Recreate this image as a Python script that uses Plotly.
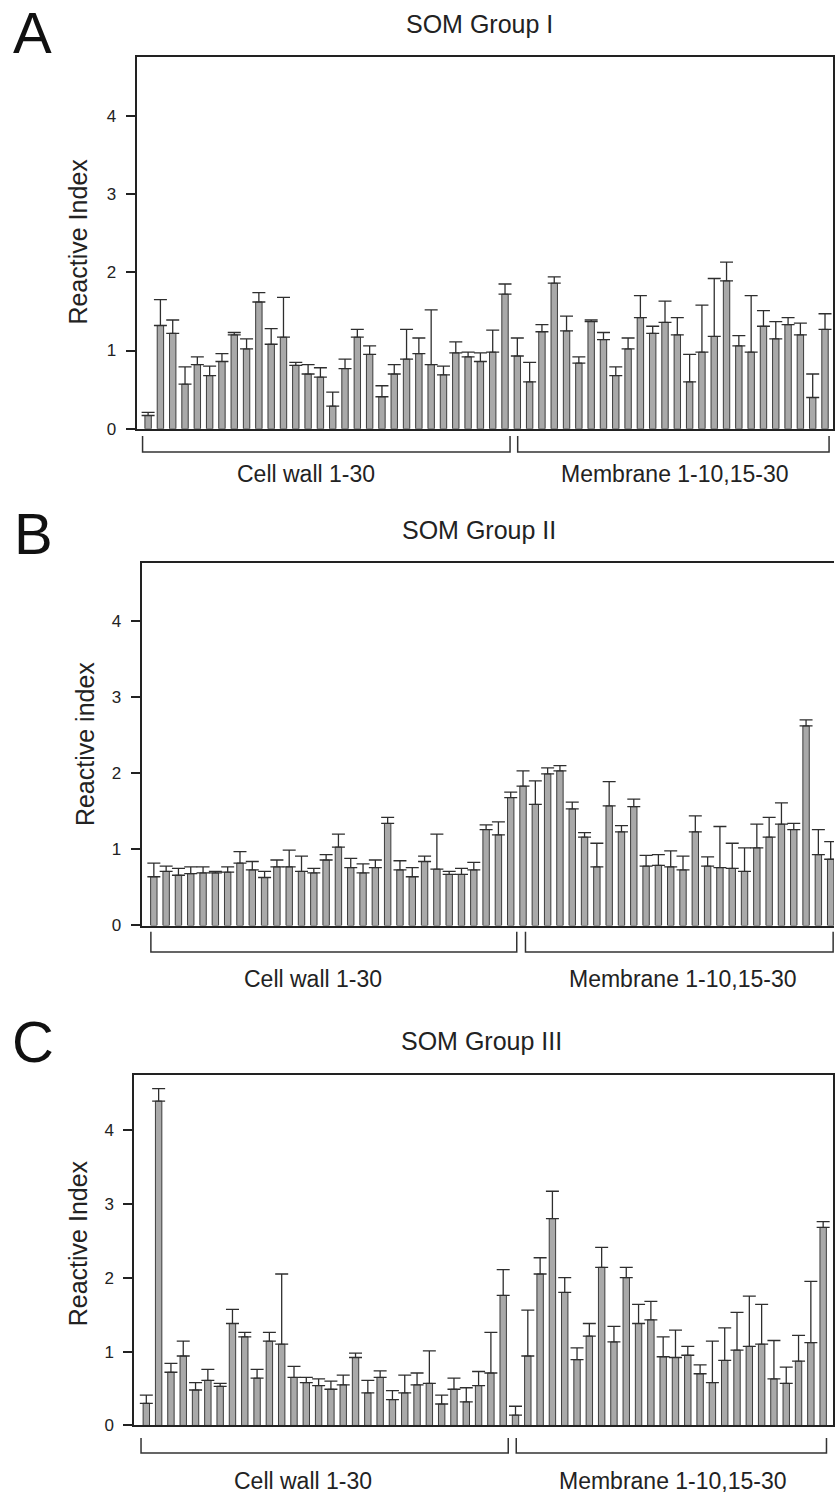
import plotly.graph_objects as go

# ---------------- data ----------------
cell_wall_pos = list(range(1, 31))      # Cell wall 1-30
membrane_pos = list(range(31, 57))      # Membrane 1-10,15-30 (26 bars)

# Panel A: SOM Group I
a_cw_mean = [0.17, 1.32, 1.22, 0.57, 0.82, 0.68, 0.86, 1.20, 1.02, 1.62,
             1.08, 1.17, 0.81, 0.70, 0.66, 0.29, 0.77, 1.17, 0.95, 0.41,
             0.70, 0.89, 0.96, 0.82, 0.69, 0.97, 0.92, 0.86, 0.98, 1.72]
a_cw_err = [0.04, 0.33, 0.17, 0.22, 0.10, 0.12, 0.10, 0.03, 0.13, 0.12,
            0.20, 0.51, 0.04, 0.12, 0.12, 0.18, 0.12, 0.10, 0.11, 0.14,
            0.12, 0.38, 0.20, 0.70, 0.11, 0.14, 0.06, 0.11, 0.28, 0.13]
a_mem_mean = [0.93, 0.60, 1.24, 1.86, 1.25, 0.84, 1.37, 1.14, 0.68, 1.02,
              1.42, 1.22, 1.36, 1.20, 0.60, 0.98, 1.18, 1.89, 1.06, 0.98,
              1.31, 1.15, 1.33, 1.20, 0.40, 1.27]
a_mem_err = [0.23, 0.25, 0.09, 0.08, 0.19, 0.08, 0.02, 0.09, 0.11, 0.14,
             0.28, 0.09, 0.27, 0.22, 0.35, 0.60, 0.74, 0.24, 0.13, 0.72,
             0.20, 0.22, 0.09, 0.15, 0.30, 0.20]

# Panel B: SOM Group II
b_cw_mean = [0.64, 0.71, 0.66, 0.68, 0.69, 0.69, 0.70, 0.82, 0.73, 0.63,
             0.77, 0.77, 0.71, 0.69, 0.86, 1.03, 0.76, 0.69, 0.76, 1.34,
             0.73, 0.64, 0.84, 0.74, 0.67, 0.67, 0.73, 1.26, 1.19, 1.68]
b_cw_err = [0.18, 0.07, 0.09, 0.09, 0.08, 0.02, 0.07, 0.15, 0.11, 0.08,
            0.09, 0.22, 0.20, 0.06, 0.07, 0.17, 0.12, 0.12, 0.10, 0.08,
            0.12, 0.12, 0.07, 0.46, 0.04, 0.08, 0.10, 0.06, 0.17, 0.07]
b_mem_mean = [1.83, 1.59, 1.99, 2.03, 1.53, 1.16, 0.77, 1.57, 1.23, 1.56,
              0.78, 0.79, 0.77, 0.73, 1.23, 0.78, 0.76, 0.75, 0.71, 1.02,
              1.16, 1.33, 1.26, 2.62, 0.93, 0.87]
b_mem_err = [0.20, 0.31, 0.08, 0.07, 0.09, 0.06, 0.31, 0.32, 0.08, 0.10,
             0.14, 0.14, 0.21, 0.18, 0.21, 0.12, 0.54, 0.33, 0.31, 0.31,
             0.26, 0.28, 0.08, 0.08, 0.33, 0.23]

# Panel C: SOM Group III
c_cw_mean = [0.30, 4.39, 0.72, 0.94, 0.48, 0.61, 0.53, 1.38, 1.20, 0.64,
             1.14, 1.10, 0.65, 0.58, 0.54, 0.49, 0.55, 0.92, 0.44, 0.65,
             0.35, 0.44, 0.55, 0.57, 0.29, 0.49, 0.32, 0.54, 0.71, 1.76]
c_cw_err = [0.11, 0.17, 0.12, 0.20, 0.10, 0.15, 0.04, 0.19, 0.06, 0.12,
            0.12, 0.95, 0.15, 0.07, 0.09, 0.11, 0.13, 0.06, 0.17, 0.09,
            0.12, 0.24, 0.16, 0.44, 0.12, 0.15, 0.19, 0.19, 0.55, 0.35]
c_mem_mean = [0.14, 0.94, 2.05, 2.80, 1.80, 0.89, 1.21, 2.14, 1.13, 2.00,
              1.38, 1.43, 0.93, 0.92, 0.95, 0.70, 0.58, 0.88, 1.02, 1.07,
              1.10, 0.63, 0.57, 0.87, 1.12, 2.68]
c_mem_err = [0.12, 0.62, 0.22, 0.37, 0.20, 0.16, 0.17, 0.27, 0.21, 0.14,
             0.26, 0.25, 0.27, 0.37, 0.12, 0.12, 0.56, 0.44, 0.51, 0.68,
             0.54, 0.52, 0.22, 0.35, 0.83, 0.08]

panel_letters = ["A", "B", "C"]
panel_titles = ["SOM Group I", "SOM Group II", "SOM Group III"]
y_titles = ["Reactive Index", "Reactive index", "Reactive Index"]
group_labels = ["Cell wall 1-30", "Membrane 1-10,15-30"]
y_ticks = [0, 1, 2, 3, 4]

# ---------------- styling / layout ----------------
W, H = 835, 1503
FONT = "Liberation Sans, Arial, sans-serif"
BAR_FILL = "#a9a9a9"
BAR_LINE = "#3c3c3c"
INK = "#222222"


def px(x):
    return x / W


def py(y):
    return 1 - y / H


panels = [
    dict(data=(a_cw_mean, a_cw_err, a_mem_mean, a_mem_err),
         xdom=(136.7, 834), ydom=(431.7, 57.3), xr=(0.06, 56.65), yr=4.75,
         right_line=True,
         br_cw=(0.55, 30.41), br_mem=(31.03, 56.33), br_y=(439, 455),
         lab_x=(13.86, 43.8), lab_y=476.7,
         title=(480, 24), letter=(32.5, 33), ytitle=(78, 243.3)),
    dict(data=(b_cw_mean, b_cw_err, b_mem_mean, b_mem_err),
         xdom=(141.7, 835), ydom=(931.7, 566.7), xr=(0.0, 56.27), yr=4.76,
         right_line=False,
         br_cw=(0.76, 30.49), br_mem=(31.2, 56.2), br_y=(938, 958.3),
         lab_x=(13.96, 43.96), lab_y=986,
         title=(480, 534), letter=(34, 537), ytitle=(85, 749.2)),
    dict(data=(c_cw_mean, c_cw_err, c_mem_mean, c_mem_err),
         xdom=(134.3, 834), ydom=(1435, 1081.7), xr=(0.01, 56.8), yr=4.75,
         right_line=True,
         br_cw=(0.57, 30.41), br_mem=(31.06, 56.27), br_y=(1447.7, 1462.7),
         lab_x=(13.76, 43.8), lab_y=1491,
         title=(482, 1048), letter=(33.5, 1048), ytitle=(78, 1251.7)),
]

fig = go.Figure()
annotations = []
shapes = []
layout_axes = {}

for i, p in enumerate(panels):
    n = i + 1
    xa = "x" if n == 1 else f"x{n}"
    ya = "y" if n == 1 else f"y{n}"
    cw_m, cw_e, mem_m, mem_e = p["data"]
    for xs, ms, es in ((cell_wall_pos, cw_m, cw_e), (membrane_pos, mem_m, mem_e)):
        fig.add_trace(go.Bar(
            x=xs, y=ms, xaxis=xa, yaxis=ya, width=0.52,
            marker=dict(color=BAR_FILL, line=dict(color=BAR_LINE, width=1)),
            error_y=dict(type="data", array=es, arrayminus=[0] * len(es),
                         symmetric=False, color="#2e2e2e", thickness=1.3, width=6.5),
            showlegend=False, hoverinfo="skip",
        ))
    key_x = "xaxis" if n == 1 else f"xaxis{n}"
    key_y = "yaxis" if n == 1 else f"yaxis{n}"
    layout_axes[key_x] = dict(
        domain=[px(p["xdom"][0]), px(p["xdom"][1])], range=list(p["xr"]),
        anchor=ya, showline=True, mirror=True, linecolor=INK, linewidth=1.6,
        showticklabels=False, ticks="", showgrid=False, zeroline=False,
    )
    layout_axes[key_y] = dict(
        domain=[py(p["ydom"][0]), py(p["ydom"][1])], range=[0, p["yr"]],
        anchor=xa, showline=True, mirror=p["right_line"], linecolor=INK,
        linewidth=1.6, ticks="outside", ticklen=9, tickwidth=1.5, tickcolor=INK,
        tickvals=y_ticks, tickfont=dict(family=FONT, size=17, color=INK),
        showgrid=False, zeroline=False, ticklabelstandoff=6,
    )
    # brackets under the groups
    ytop, ybot = py(p["br_y"][0]), py(p["br_y"][1])
    for x0, x1 in (p["br_cw"], p["br_mem"]):
        shapes.append(dict(
            type="path", xref=xa, yref="paper",
            path=f"M {x0},{ytop} L {x0},{ybot} L {x1},{ybot} L {x1},{ytop}",
            line=dict(color="#333333", width=1.5),
        ))
    for lx, txt in zip(p["lab_x"], group_labels):
        annotations.append(dict(
            x=lx, y=py(p["lab_y"]), xref=xa, yref="paper", text=txt,
            showarrow=False, xanchor="center", yanchor="middle",
            font=dict(family=FONT, size=23, color=INK),
        ))
    annotations.append(dict(
        x=px(p["title"][0]), y=py(p["title"][1]), xref="paper", yref="paper",
        text=panel_titles[i], showarrow=False, xanchor="center", yanchor="middle",
        font=dict(family=FONT, size=25, color=INK),
    ))
    annotations.append(dict(
        x=px(p["letter"][0]), y=py(p["letter"][1]), xref="paper", yref="paper",
        text=panel_letters[i], showarrow=False, xanchor="center", yanchor="middle",
        font=dict(family=FONT, size=58, color="#111111"),
    ))
    annotations.append(dict(
        x=px(p["ytitle"][0]), y=py(p["ytitle"][1]), xref="paper", yref="paper",
        text=y_titles[i], showarrow=False, textangle=-90,
        xanchor="center", yanchor="middle",
        font=dict(family=FONT, size=25, color=INK),
    ))

fig.update_layout(
    width=W, height=H, margin=dict(l=0, r=0, t=0, b=0),
    paper_bgcolor="white", plot_bgcolor="white", barmode="overlay",
    annotations=annotations, shapes=shapes, showlegend=False,
    **layout_axes,
)

fig.write_html(
    "out.html",
    config={"displayModeBar": False},
    post_script="document.body.style.margin='0';"
                "document.body.style.padding='0';"
                "document.body.style.overflow='hidden';"
                "document.documentElement.style.overflow='hidden';",
)
